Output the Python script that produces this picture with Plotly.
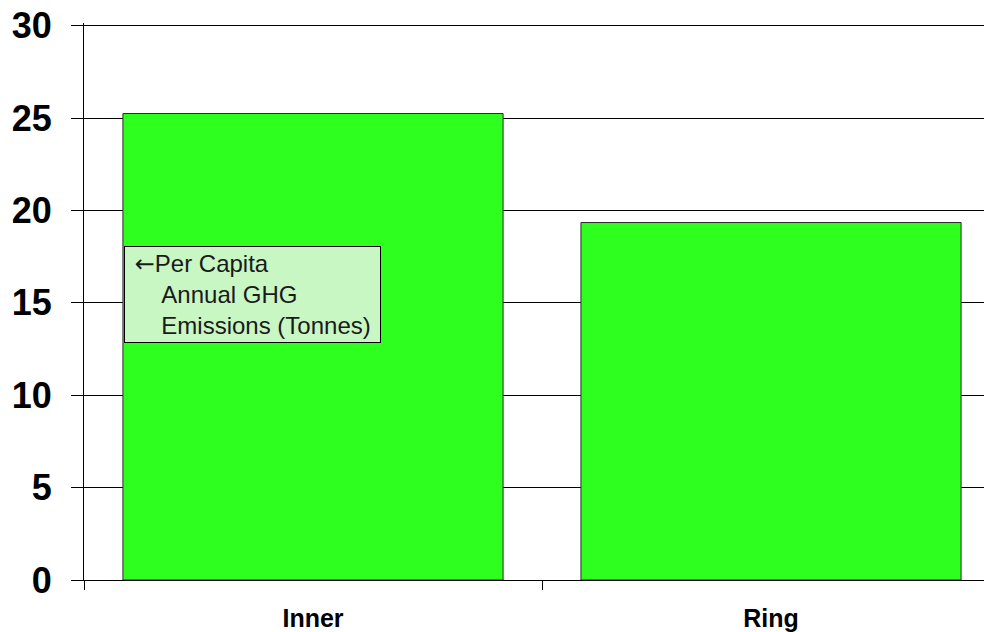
import plotly.graph_objects as go

regions = ["Inner", "Ring"]
ghg_per_capita = [25.25, 19.35]
y_ticks = [0, 5, 10, 15, 20, 25, 30]

fig = go.Figure()
fig.add_trace(go.Bar(
    x=regions,
    y=ghg_per_capita,
    width=0.83,
    marker=dict(color="#2eff1f", line=dict(color="#2a2a2a", width=1)),
    showlegend=False,
))

# the page body has an 8px margin, so the figure is 8px smaller than the window
fig.add_annotation(
    xref="paper", yref="paper",
    x=0.044, y=0.600,
    xanchor="left", yanchor="top",
    text=("&nbsp;<span style='font-family:DejaVu Sans'>←</span>Per Capita<br>"
          "&nbsp;&nbsp;&nbsp;&nbsp;&nbsp;Annual GHG<br>"
          "&nbsp;&nbsp;&nbsp;&nbsp;&nbsp;Emissions (Tonnes)&nbsp;"),
    align="left",
    showarrow=False,
    font=dict(family="Liberation Sans, Arial", size=24, color="#1a1a1a"),
    bgcolor="#c8f7c4",
    bordercolor="#000000",
    borderwidth=1,
    borderpad=3,
)

fig.update_layout(
    width=984, height=624,
    margin=dict(l=76, r=0, t=15, b=52),
    paper_bgcolor="white",
    plot_bgcolor="white",
    font=dict(family="Liberation Sans, Arial", color="black"),
)

fig.update_xaxes(
    range=[-0.5, 1.4825],
    automargin=False,
    showline=True, linecolor="black", linewidth=1,
    ticks="outside", tickson="boundaries", ticklen=9, tickcolor="black",
    tickfont=dict(size=25, family="Liberation Sans, Arial", color="black", weight="bold"),
    ticklabelstandoff=16,
    showgrid=False,
)

fig.update_yaxes(
    range=[0, 30.15],
    tickvals=y_ticks,
    automargin=False,
    showline=True, linecolor="black", linewidth=1,
    ticks="outside", ticklen=12, tickcolor="black",
    tickfont=dict(size=36, family="Liberation Sans, Arial", color="black", weight="bold"),
    ticklabelstandoff=12,
    ticklabeloverflow="allow",
    showgrid=True, gridcolor="black", gridwidth=1,
    zeroline=False,
)

fig.write_html("out.html")
